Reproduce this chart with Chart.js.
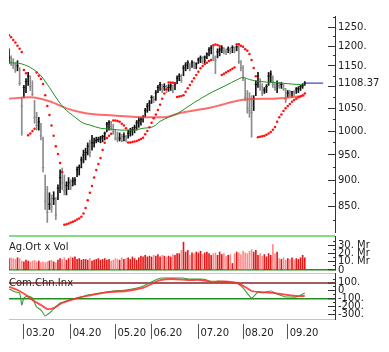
<!DOCTYPE html>
<html><head><meta charset="utf-8">
<script src="https://cdn.jsdelivr.net/npm/chart.js@4.4.1/dist/chart.umd.min.js"></script>
<style>
html,body{margin:0;padding:0;background:#fff;}
#wrap{position:relative;width:389px;height:352px;overflow:hidden;background:#fff;}
canvas{position:absolute;left:0;top:0;}
.lbl{position:absolute;font:10px 'DejaVu Sans';color:#222;white-space:nowrap;line-height:12px;z-index:5;}
</style></head><body>
<div id="wrap">
<canvas id="cMain" width="389" height="352"></canvas>
<canvas id="cVol" width="389" height="352"></canvas>
<canvas id="cCci" width="389" height="352"></canvas>
<div class="lbl" style="left:9px;top:241px">Ag.Ort x Vol</div>
<div class="lbl" style="left:9px;top:277px">Com.Chn.Inx</div>
</div>
<script>
const dates = ["20.02.20","21.02.20","24.02.20","25.02.20","26.02.20","27.02.20","28.02.20",
"02.03.20","03.03.20","04.03.20","05.03.20","06.03.20","09.03.20","10.03.20","11.03.20","12.03.20","13.03.20","16.03.20","17.03.20","18.03.20","19.03.20","20.03.20","23.03.20","24.03.20","25.03.20","26.03.20","27.03.20","30.03.20","31.03.20",
"01.04.20","02.04.20","03.04.20","06.04.20","07.04.20","08.04.20","09.04.20","10.04.20","13.04.20","14.04.20","15.04.20","16.04.20","17.04.20","20.04.20","21.04.20","22.04.20","24.04.20","27.04.20","28.04.20","29.04.20","30.04.20",
"04.05.20","05.05.20","06.05.20","07.05.20","08.05.20","11.05.20","12.05.20","13.05.20","14.05.20","15.05.20","18.05.20","20.05.20","21.05.20","22.05.20","27.05.20","28.05.20","29.05.20",
"01.06.20","02.06.20","03.06.20","04.06.20","05.06.20","08.06.20","09.06.20","10.06.20","11.06.20","12.06.20","15.06.20","16.06.20","17.06.20","18.06.20","19.06.20","22.06.20","23.06.20","24.06.20","25.06.20","26.06.20","29.06.20","30.06.20",
"01.07.20","02.07.20","03.07.20","06.07.20","07.07.20","08.07.20","09.07.20","10.07.20","13.07.20","14.07.20","16.07.20","17.07.20","20.07.20","21.07.20","22.07.20","23.07.20","24.07.20","27.07.20","28.07.20","29.07.20","30.07.20",
"03.08.20","04.08.20","05.08.20","06.08.20","07.08.20","10.08.20","11.08.20","12.08.20","13.08.20","14.08.20","17.08.20","18.08.20","19.08.20","20.08.20","21.08.20","24.08.20","25.08.20","26.08.20","27.08.20","28.08.20","31.08.20",
"01.09.20","02.09.20","03.09.20","04.09.20","07.09.20","08.09.20","09.09.20","10.09.20","11.09.20"];

const high = [1193,1175,1168,1158,1163,1146,1075,1103,1119,1134,
1126,1114,1068,1041,1030,1017,987,910,888,876,
872,878,867,891,920,924,910,897,905,901,
905,905,926,930,946,960,964,975,981,991,
985,987,987,989,991,998,1019,1023,1021,1015,
1002,998,996,993,996,991,1002,1006,1008,1013,
1023,1030,1030,1034,1050,1061,1068,1079,1077,1091,
1103,1110,1105,1107,1103,1105,1107,1103,1110,1126,
1131,1129,1151,1158,1163,1156,1163,1160,1158,1170,
1175,1173,1175,1183,1196,1201,1201,1175,1193,1196,
1201,1196,1193,1198,1196,1201,1198,1201,1206,1163,
1151,1119,1091,1086,1079,1079,1114,1134,1119,1107,
1098,1105,1134,1138,1126,1107,1114,1110,1110,1105,
1096,1091,1091,1089,1091,1098,1100,1103,1107,1112];

const low = [1156,1151,1143,1134,1138,1103,991,1075,1086,1103,
1091,1079,1017,1002,1002,981,916,845,822,845,
840,854,827,863,876,882,872,872,882,882,
889,891,907,910,924,934,940,950,946,960,
966,975,977,975,977,981,998,1002,1002,993,
981,977,979,977,979,977,985,989,991,996,
1002,1008,1013,1019,1030,1041,1045,1061,1063,1068,
1086,1091,1086,1091,1086,1089,1091,1086,1093,1107,
1114,1110,1126,1138,1143,1138,1146,1143,1143,1156,
1158,1156,1158,1168,1175,1180,1163,1131,1170,1175,
1183,1180,1178,1183,1180,1183,1183,1188,1156,1138,
1114,1068,1039,1030,987,1045,1079,1098,1091,1079,
1084,1086,1103,1110,1098,1091,1086,1096,1096,1091,
1063,1075,1077,1075,1079,1084,1086,1091,1096,1103];

const close = [1170,1160,1152,1140,1150,1108,1055,1098,1112,1125,
1100,1082,1030,1012,1020,990,925,860,840,855,
850,865,835,885,905,895,880,890,895,890,
898,900,920,925,940,950,955,968,955,975,
975,980,982,985,988,995,1015,1018,1010,998,
985,982,985,980,988,983,995,1000,1003,1008,
1018,1022,1025,1030,1045,1055,1062,1075,1070,1085,
1098,1105,1095,1100,1092,1098,1102,1090,1105,1120,
1125,1115,1145,1152,1158,1145,1158,1150,1155,1165,
1170,1162,1172,1180,1190,1195,1170,1165,1185,1190,
1195,1188,1185,1192,1188,1196,1190,1198,1160,1145,
1120,1075,1050,1045,1040,1072,1105,1125,1100,1085,
1092,1100,1125,1130,1105,1098,1108,1102,1105,1095,
1070,1085,1082,1088,1086,1094,1095,1100,1103,1108.37];

const sar = [1228,1223,1216,1209,1201,1193,1185,1140,1132,991,
995,1000,1005,1134,1126,1118,1106,1080,1055,1035,
1012,990,968,952,934,916,818,819,820,822,
823,825,827,829,832,838,848,862,876,889,
905,920,932,944,960,975,985,990,994,1023,
1023,1022,1020,1016,1012,1006,976,976,977,978,
979,981,983,986,993,1000,1008,1018,1028,1036,
1046,1058,1072,1084,1094,1110,1110,1109,1108,1076,
1077,1078,1080,1088,1096,1104,1112,1120,1128,1136,
1144,1150,1155,1158,1162,1165,1202,1204,1203,1200,
1128,1131,1134,1137,1140,1143,1146,1205,1205,1201,
1198,1192,1188,1180,1165,1145,1125,987,988,989,
990,992,995,998,1003,1009,1020,1030,1036,1044,
1050,1055,1060,1065,1069,1072,1075,1077,1080,1084];

const volume = [14,15,14,13,15,14,11,10,12,11,
10,11,12,10,11,9,10,9,10,11,
12,10,9,12,14,13,15,12,14,16,
15,16,13,14,12,13,13,12,14,11,
12,13,14,12,13,14,12,13,11,12,
14,13,12,15,13,14,15,13,16,14,
12,15,17,16,18,16,17,16,18,17,
19,16,18,17,16,17,16,19,18,20,
20,24,34,22,24,18,21,20,22,21,
23,19,21,22,20,18,20,21,18,22,
19,20,17,18,19,8,20,22,21,19,
23,21,20,23,25,22,24,18,20,17,
19,16,20,18,31,20,22,14,13,15,
12,14,13,15,12,14,13,15,18,15];

const maGreenAt = [0,6,11,15,19,23,26,30,35,38,43,48,53,58,63,68,71,75,79,87,95,102,107,110,113,118,124,131,137,139];
const maGreen   = [1158,1155,1143,1126,1098,1068,1050,1034,1017,1013,1006,1004,1002,1002,1006,1010,1021,1030,1038,1063,1086,1103,1116,1122,1117,1112,1110,1107,1105,1107];
const maRedAt = [0,10,19,27,36,49,65,73,80,95,111,124,132,139];
const maRed   = [1072,1075,1066,1050,1039,1034,1030,1030,1039,1052,1070,1072,1075,1079];

const cciRedAt = [0,4,8,11,15,18,21,25,32,39,47,55,63,68,71,77,84,90,93,97,101,107,111,114,119,124,131,135,139];
const cciRed   = [51,9,-55,-119,-183,-235,-222,-158,-94,-55,-17,-4,35,99,137,150,137,137,124,115,118,99,47,-4,-17,-29,-55,-68,-68];
const cciGreenAt = [0,3,5,6,7,9,11,13,15,17,19,22,24,27,32,37,43,49,55,62,66,70,72,77,82,84,90,93,96,98,103,107,110,114,117,119,123,125,126,130,132,135,138,139];
const cciGreen   = [22,-17,-29,-183,-94,-68,-94,-209,-247,-324,-286,-209,-158,-132,-94,-55,-29,-4,9,47,99,150,163,163,163,150,150,137,99,124,112,99,35,-94,-17,-29,-4,-29,-42,-81,-81,-81,-42,-29];

const priceTicks = [825,850,875,900,925,950,975,1000,1025,1050,1075,1100,1125,1150,1175,1200,1225,1250,1275];
const volTicks = [0,5,10,15,20,25,30,35];
const cciTicks = [-300,-250,-200,-150,-100,-50,0,50,100,150];

// ---------- layout / style ----------
Chart.defaults.font.family = "'DejaVu Sans', Verdana, sans-serif";
Chart.defaults.font.size = 10;
Chart.defaults.color = '#222';

const n = dates.length;
const lastClose = close[n - 1];
const X_MIN = 0, X_MAX = 153.2;
const PRICE_MIN = 805.3, PRICE_MAX = 1280;
const VOL_TOP = 41.6;
const CCI_MIN = -363, CCI_MAX = 227;
const CLEAR = 'rgba(0,0,0,0)';
const AXIS = '#333';

const up = close.map((c, i) => i === 0 || c >= close[i - 1]);
const barCol = up.map(u => u ? '#111111' : '#8c8c8c');
const volCol = up.map(u => u ? '#e41a1a' : '#ff8c8c');
const monthIdx = dates.map((d, i) => (i > 0 && d.slice(3) !== dates[i - 1].slice(3)) ? i : -1).filter(i => i >= 0);
const pts = (idx, vals) => idx.map((x, k) => ({x, y: vals[k]}));

const common = {
  responsive: false, animation: false, devicePixelRatio: 1, events: [],
  plugins: {legend: {display: false}, tooltip: {enabled: false}}
};
const xHidden = () => ({type: 'linear', min: X_MIN, max: X_MAX, offset: false, bounds: 'data', display: false});
const tv = ctx => (ctx.tick ? ctx.tick.value : NaN);

// ---------- main price panel ----------
new Chart(document.getElementById('cMain'), {
  type: 'bar',
  data: {datasets: [
    {type: 'line', label: 'SAR', data: sar.map((v, i) => ({x: i, y: v})), showLine: false,
     pointRadius: 1.25, pointBackgroundColor: '#ff1010', pointBorderWidth: 0, order: 0},
    {type: 'line', label: 'Son', data: [{x: n - 1, y: lastClose}, {x: n - 1 + 8.6, y: lastClose}],
     borderColor: '#1a1aa8', borderWidth: 1, pointRadius: 0, order: 1},
    {type: 'line', label: 'MA kısa', data: pts(maGreenAt, maGreen), borderColor: '#1f8f1f', borderWidth: 1,
     pointRadius: 0, cubicInterpolationMode: 'monotone', order: 2},
    {type: 'line', label: 'MA uzun', data: pts(maRedAt, maRed), borderColor: 'rgba(255,70,70,0.8)', borderWidth: 2,
     pointRadius: 0, cubicInterpolationMode: 'monotone', order: 3},
    {type: 'line', label: 'Kapanış', data: close.map((c, i) => ({x: i, y: c})), showLine: false,
     pointStyle: 'line', pointRadius: 1.2, pointBorderColor: barCol, pointBorderWidth: 1, order: 4},
    {type: 'bar', label: 'Yüksek-Düşük', data: high.map((h, i) => ({x: i, y: [low[i], h]})),
     backgroundColor: barCol, barThickness: 1, borderWidth: 0, order: 5}
  ]},
  options: Object.assign({}, common, {
    layout: {padding: {left: 9, top: 15, right: 0, bottom: 120}},
    scales: {
      x: xHidden(),
      y: {
        type: 'logarithmic', position: 'right', min: PRICE_MIN, max: PRICE_MAX, bounds: 'data',
        afterFit: s => { s.width = 54; },
        afterBuildTicks: s => { s.ticks = priceTicks.map(v => ({value: v})).concat([{value: lastClose}]); },
        border: {display: true, color: AXIS, width: 1},
        grid: {drawOnChartArea: false, tickLength: -7, color: AXIS, tickWidth: 1,
          tickColor: ctx => tv(ctx) === lastClose ? CLEAR : AXIS,
          tickBorderDash: ctx => (tv(ctx) % 50 !== 0) ? [3, 30] : []},
        ticks: {autoSkip: false, padding: 10, color: '#222',
          callback: v => v === lastClose ? lastClose.toFixed(2) : (v % 50 === 0 ? v + '.' : ''),
          showLabelBackdrop: ctx => tv(ctx) === lastClose, backdropColor: '#ffffff',
          backdropPadding: {top: 0, bottom: 0, left: 1, right: 1}}
      }
    }
  })
});

// ---------- volume panel ----------
new Chart(document.getElementById('cVol'), {
  type: 'bar',
  data: {datasets: [
    {type: 'bar', label: 'Hacim', data: volume.map((v, i) => ({x: i, y: v})), backgroundColor: volCol,
     barThickness: 1, borderWidth: 0}
  ]},
  options: Object.assign({}, common, {
    layout: {padding: {left: 9, top: 236, right: 0, bottom: 82}},
    scales: {
      x: xHidden(),
      y: {
        type: 'linear', position: 'right', min: 0, max: VOL_TOP, bounds: 'data',
        afterFit: s => { s.width = 54; },
        afterBuildTicks: s => { s.ticks = volTicks.map(v => ({value: v})).concat([{value: VOL_TOP}]); },
        border: {display: true, color: AXIS, width: 1},
        grid: {drawOnChartArea: true, tickLength: -7, tickWidth: 1,
          color: ctx => tv(ctx) === VOL_TOP ? '#86dc86' : (tv(ctx) === 0 ? '#1f8f1f' : CLEAR),
          lineWidth: ctx => tv(ctx) === VOL_TOP ? 2 : (tv(ctx) === 0 ? 1.5 : 1),
          tickColor: ctx => tv(ctx) === VOL_TOP ? CLEAR : AXIS,
          tickBorderDash: ctx => (tv(ctx) % 10 !== 0) ? [3, 30] : []},
        ticks: {autoSkip: false, padding: 10, color: '#222',
          callback: v => v === 0 ? '0' : ((v % 10 === 0 && v <= 30) ? v + '. Mr' : '')}
      }
    }
  })
});

// ---------- CCI panel + date axis ----------
new Chart(document.getElementById('cCci'), {
  type: 'line',
  data: {datasets: [
    {label: 'CCI ort', data: pts(cciRedAt, cciRed), borderColor: 'rgba(255,40,40,0.85)', borderWidth: 1.8,
     pointRadius: 0, tension: 0.25},
    {label: 'CCI', data: pts(cciGreenAt, cciGreen), borderColor: '#3a9a3a', borderWidth: 1.1,
     pointRadius: 0, tension: 0.15}
  ]},
  options: Object.assign({}, common, {
    layout: {padding: {left: 9, top: 273, right: 0, bottom: 0}},
    scales: {
      x: {
        type: 'linear', min: X_MIN, max: X_MAX, offset: false, bounds: 'data', position: 'bottom',
        afterFit: s => { s.height = 33; },
        afterBuildTicks: s => { s.ticks = monthIdx.map(i => ({value: i})); },
        border: {display: true, color: '#c4c4c4', width: 1},
        grid: {drawOnChartArea: false, tickLength: 20, color: '#555', tickWidth: 1, tickBorderDash: [0, 4, 16, 40]},
        ticks: {autoSkip: false, maxRotation: 0, minRotation: 0, align: 'start', labelOffset: 2, padding: -12,
          color: '#222', callback: v => dates[v] ? dates[v].slice(3) : ''}
      },
      y: {
        type: 'linear', position: 'right', min: CCI_MIN, max: CCI_MAX, bounds: 'data',
        afterFit: s => { s.width = 54; },
        afterBuildTicks: s => { s.ticks = [{value: CCI_MIN}].concat(cciTicks.map(v => ({value: v})), [{value: CCI_MAX}]); },
        border: {display: true, color: AXIS, width: 1},
        grid: {drawOnChartArea: true, tickLength: -7, tickWidth: 1,
          color: ctx => { const v = tv(ctx); return v === CCI_MAX ? '#c8c8c8' : v === 100 ? '#a65a5a' : v === -100 ? '#1f8f1f' : CLEAR; },
          lineWidth: ctx => { const v = tv(ctx); return v === 100 ? 2 : (v === -100 ? 1.5 : 1); },
          tickColor: ctx => (tv(ctx) === CCI_MAX || tv(ctx) === CCI_MIN) ? CLEAR : AXIS,
          tickBorderDash: ctx => (tv(ctx) % 100 !== 0) ? [3, 30] : []},
        ticks: {autoSkip: false, padding: 10, color: '#222',
          callback: v => v === 0 ? '0' : ((v % 100 === 0 && v >= -300 && v <= 100) ? v + '.' : '')}
      }
    }
  })
});
</script>
</body></html>
